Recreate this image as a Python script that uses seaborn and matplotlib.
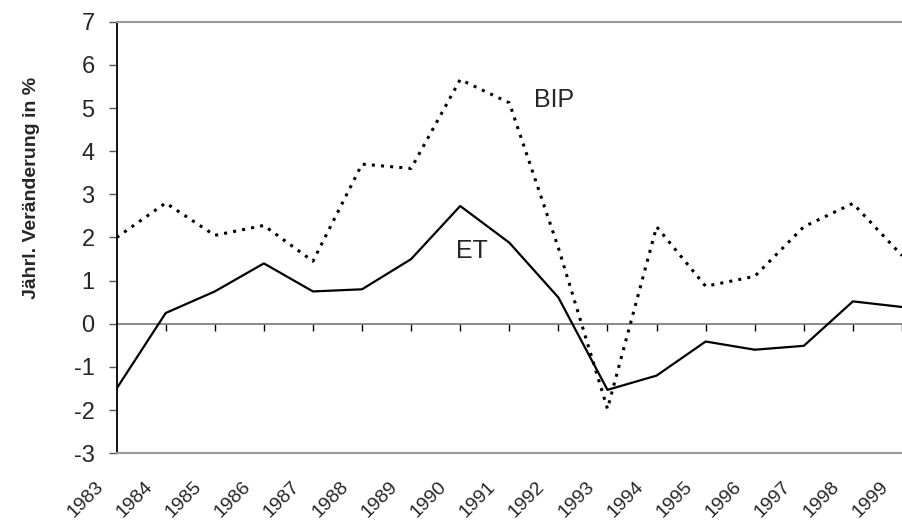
import numpy as np
import pandas as pd
import matplotlib
matplotlib.use("Agg")
import matplotlib.pyplot as plt
import matplotlib.transforms as mtransforms
import seaborn as sns

# Jährliche Veränderung in % (BIP und Erwerbstätige)
years = ["1983", "1984", "1985", "1986", "1987", "1988", "1989", "1990", "1991",
         "1992", "1993", "1994", "1995", "1996", "1997", "1998", "1999"]
et = [-1.5, 0.25, 0.75, 1.4, 0.75, 0.8, 1.5, 2.73, 1.88,
      0.61, -1.53, -1.2, -0.41, -0.6, -0.51, 0.52, 0.39]
bip = [2.0, 2.8, 2.05, 2.28, 1.45, 3.7, 3.6, 5.66, 5.12,
       1.76, -1.97, 2.25, 0.87, 1.1, 2.25, 2.79, 1.58]

sns.set_style("white")
plt.rcParams['font.family'] = ['Liberation Sans', 'DejaVu Sans']
plt.rcParams['axes.unicode_minus'] = False

df = pd.DataFrame({"pos": np.arange(len(years)), "ET": et, "BIP": bip})

fig = plt.figure(figsize=(9.02, 5.22), dpi=100)
ax = fig.add_axes([116.6 / 902, 1 - 453.3 / 522, 1 - 116.6 / 902, (453.3 - 21.7) / 522])

sns.lineplot(data=df, x="pos", y="ET", ax=ax, color="black", lw=1.6)
sns.lineplot(data=df, x="pos", y="BIP", ax=ax, color="black", lw=2.2,
             linestyle=(0, (1, 2)))

ax.set_xlim(0, 15.89)
ax.set_ylim(-3, 7)
ax.set_yticks(range(-3, 8))
ax.set_xticks(df["pos"])
ax.set_xticklabels(years, rotation=45, ha="right", fontsize=14)
ax.tick_params(axis="x", length=0, pad=18)
ax.tick_params(axis="y", length=5.8, width=1, color="#555555", labelsize=17,
               pad=10, direction="out", left=True)
offset = mtransforms.ScaledTranslation(-0.1, 0, fig.dpi_scale_trans)
for lab in ax.get_xticklabels():
    lab.set_transform(lab.get_transform() + offset)
ax.set_xlabel("")
ax.set_ylabel("")

# Nulllinie mit Teilstrichen
sec = ax.secondary_xaxis(0.3)
sec.set_alignment("bottom")
sec.set_xticks(df["pos"][1:])
sec.set_xticklabels([])
sec.tick_params(direction="out", length=5, width=1, color="black")
sec.spines["bottom"].set_color("#808080")
sec.spines["bottom"].set_linewidth(1.3)

for s in ["top", "bottom"]:
    ax.spines[s].set_color("#9a9a9a")
    ax.spines[s].set_linewidth(1.5)
ax.spines["left"].set_color("black")
ax.spines["left"].set_linewidth(1.3)
ax.spines["right"].set_visible(False)

ax.text(8.91, 5.19, "BIP", fontsize=18, ha="center", va="center")
ax.text(7.23, 1.69, "ET", fontsize=18, ha="center", va="center")

fig.text(32 / 902, 1 - 188 / 522, "Jährl. Veränderung in %", rotation=90,
         fontsize=14, fontweight="bold", ha="center", va="center")

fig.savefig("out.png", dpi=100)
